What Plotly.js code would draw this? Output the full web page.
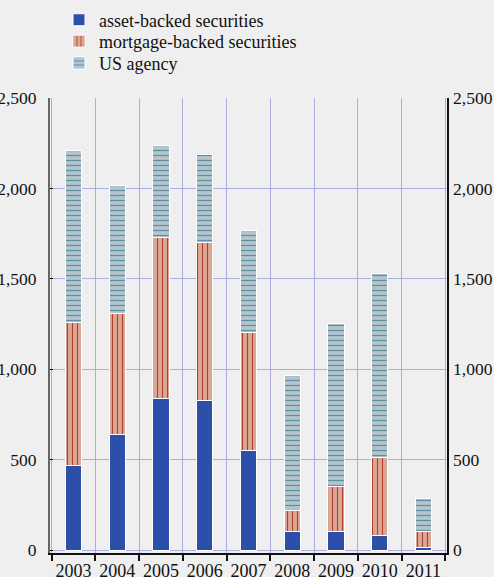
<!DOCTYPE html>
<html>
<head>
<meta charset="utf-8">
<script src="https://cdn.plot.ly/plotly-3.0.1.min.js"></script>
<style>
html,body{margin:0;padding:0;background:#efefef;}
#chart{width:494px;height:577px;}
</style>
</head>
<body>
<div id="chart"></div>
<script>
const years = ["2003","2004","2005","2006","2007","2008","2009","2010","2011"];
const assetBacked = [470, 642, 839, 826, 551, 105, 105, 79, 13];
const mortgageBacked = [787, 667, 888, 877, 655, 116, 249, 432, 92];
const usAgency = [955, 706, 511, 482, 560, 747, 902, 1019, 183];
const yTicks = [0, 500, 1000, 1500, 2000, 2500];
const yTickText = ["0", "500", "1,000", "1,500", "2,000", "2,500"];

const serif = "Liberation Serif";
const white = {color: "#ffffff", width: 1};

const traces = [
  {type: "bar", name: "asset-backed securities", x: years, y: assetBacked, legend: "legend",
   marker: {color: "#2c4fa9", line: white}, hoverinfo: "skip"},
  {type: "bar", name: "mortgage-backed securities", x: years, y: mortgageBacked, legend: "legend2",
   marker: {color: "#dba795", line: white,
     pattern: {shape: "|", bgcolor: "#dba795", fgcolor: "#b3402e", size: 5, solidity: 0.22}},
   hoverinfo: "skip"},
  {type: "bar", name: "US agency", x: years, y: usAgency, legend: "legend3",
   marker: {color: "#b3c5cd", line: white,
     pattern: {shape: "-", bgcolor: "#b3c5cd", fgcolor: "#5f8fa0", size: 5, solidity: 0.25}},
   hoverinfo: "skip"},
  // invisible helper so the right-hand mirrored axis is drawn
  {type: "scatter", mode: "markers", x: years, y: assetBacked, yaxis: "y2",
   marker: {opacity: 0}, showlegend: false, hoverinfo: "skip"}
];

function legendAt(y) {
  return {x: 0.0227, y: y, xanchor: "left", yanchor: "top", bgcolor: "rgba(0,0,0,0)",
    font: {family: serif, size: 18, color: "#111"}, itemwidth: 30};
}

const layout = {
  width: 494, height: 577,
  paper_bgcolor: "#efefef", plot_bgcolor: "#efefef",
  margin: {l: 50, r: 47, t: 98, b: 24, autoexpand: false},
  barmode: "stack", bargap: 0.63,
  font: {family: serif, size: 18, color: "#111"},
  showlegend: true,
  legend: legendAt(1.212),
  legend2: legendAt(1.165),
  legend3: legendAt(1.117),
  xaxis: {type: "category", tickson: "boundaries", showgrid: true, gridcolor: "#abaee2", gridwidth: 1,
    showline: true, linecolor: "#111", linewidth: 2, ticks: "outside", ticklen: 6, tickwidth: 2,
    tickcolor: "#111", tickangle: 0, automargin: false,
    tickfont: {family: serif, size: 18, color: "#111"}, fixedrange: true},
  yaxis: {range: [-15, 2500], tickvals: yTicks, ticktext: yTickText, showgrid: true,
    gridcolor: "#abaee2", gridwidth: 1, zeroline: false, showline: true, linecolor: "#666",
    linewidth: 2, ticks: "inside", ticklen: 3, tickcolor: "#111", ticklabelstandoff: 8,
    automargin: false, tickfont: {family: serif, size: 17.5, color: "#111"}, fixedrange: true},
  yaxis2: {range: [-15, 2500], tickvals: yTicks, ticktext: yTickText, overlaying: "y",
    side: "right", anchor: "x", showgrid: false, zeroline: false, showline: true,
    linecolor: "#111", linewidth: 1.5, ticks: "", ticklabelstandoff: 1, automargin: false,
    tickfont: {family: serif, size: 17.5, color: "#111"}, fixedrange: true}
};

Plotly.newPlot("chart", traces, layout, {staticPlot: true, displayModeBar: false});
</script>
</body>
</html>
